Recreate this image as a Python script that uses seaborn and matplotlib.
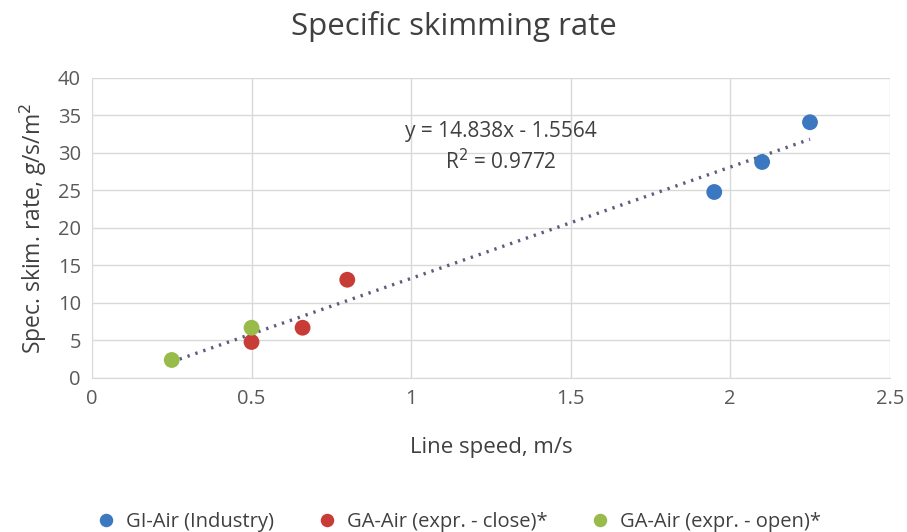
import numpy as np
import pandas as pd
import matplotlib.pyplot as plt
import seaborn as sns

# data
series = ["GI-Air (Industry)", "GA-Air (expr. - close)*", "GA-Air (expr. - open)*"]
gi_speed = [1.95, 2.10, 2.25]
gi_rate = [24.8, 28.8, 34.1]
close_speed = [0.50, 0.66, 0.80]
close_rate = [4.8, 6.7, 13.1]
open_speed = [0.25, 0.50]
open_rate = [2.4, 6.7]
slope, intercept = 14.838, -1.5564
colors = ["#3c78c0", "#c83c38", "#98bb4a"]

df = pd.DataFrame({
    "speed": gi_speed + close_speed + open_speed,
    "rate": gi_rate + close_rate + open_rate,
    "series": [series[0]] * 3 + [series[1]] * 3 + [series[2]] * 2,
})

sns.set_style("white")
plt.rcParams["font.family"] = ["Open Sans", "DejaVu Sans"]

fig = plt.figure(figsize=(9.07, 5.32), dpi=100)
ax = fig.add_axes([0.1014, 0.2895, 0.8796, 0.5639])

# trendline
xs = np.array([df["speed"].min(), df["speed"].max()])
ax.plot(xs, slope * xs + intercept, linestyle=(0, (0.7, 1.8)), color="#5c5c80",
        linewidth=2.4, zorder=2)

sns.scatterplot(data=df, x="speed", y="rate", hue="series", palette=colors,
                s=130, edgecolor="none", ax=ax, zorder=3, legend=True)

ax.set_xlim(0, 2.5)
ax.set_ylim(0, 40)
ax.set_xticks(np.arange(0, 2.51, 0.5))
ax.set_xticklabels(["0", "0.5", "1", "1.5", "2", "2.5"])
ax.set_yticks(range(0, 41, 5))
ax.grid(True, color="#d9d9d9", linewidth=1)
for s in ["top", "right", "left"]:
    ax.spines[s].set_visible(False)
ax.spines["bottom"].set_color("#d9d9d9")
ax.tick_params(axis="both", labelsize=14.5, colors="#595959", length=0, pad=8)

ax.set_xlabel("Line speed, m/s", fontsize=16, color="#404040", labelpad=20)
ax.set_ylabel("Spec. skim. rate, g/s/m$^2$", fontsize=16.5, color="#404040", labelpad=6)
fig.suptitle("Specific skimming rate", fontsize=22.5, color="#404040", y=0.98)

ax.text(1.28, 32.9, "y = 14.838x - 1.5564", fontsize=15, color="#404040", ha="center", va="center")
ax.text(1.28, 28.8, "R$^2$ = 0.9772", fontsize=15, color="#404040", ha="center", va="center")

handles, labels = ax.get_legend_handles_labels()
ax.legend(handles, labels, loc="lower center", bbox_to_anchor=(0.5, -0.035),
          bbox_transform=fig.transFigure, ncol=3, frameon=False, fontsize=14.5,
          handletextpad=0.0, columnspacing=1.6, markerscale=0.85, labelcolor="#404040")

fig.savefig("out.png", dpi=100)
